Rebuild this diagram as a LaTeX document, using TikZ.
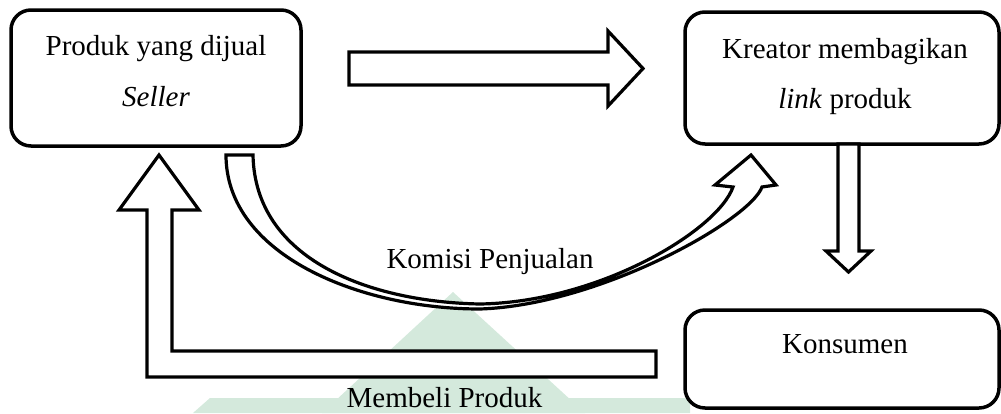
\documentclass[tikz,border=0pt]{standalone}
\usepackage{fontspec}
\setmainfont{Liberation Serif}
\begin{document}
\begin{tikzpicture}[x=1pt,y=-1pt,
  box/.style={draw=black, line width=3.5pt, rounded corners=20pt, fill=white, inner sep=0pt},
  lbl/.style={anchor=base, inner sep=0pt, font=\fontsize{29}{35}\selectfont},
  blockarrow/.style={draw=black, line width=3.2pt, fill=white, line join=miter, miter limit=10},
  wm/.style={fill=wmgreen, draw=none}]
\definecolor{wmgreen}{RGB}{212,233,220}
\useasboundingbox (0,0) rectangle (1001,413);
% faint watermark
\fill[wm] (453,292) -- (585,413) -- (322,413) -- cycle;
\fill[wm] (193,413) -- (210,398) -- (690,398) -- (690,413) -- cycle;
% boxes
\node[box, minimum width=290pt, minimum height=136pt] (seller) at (156,78) {};
\node[box, minimum width=314pt, minimum height=132pt] (kreator) at (842,78) {};
\node[box, minimum width=314pt, minimum height=98pt] (konsumen) at (842,359) {};
% box texts
\node[lbl] (t1) at (156,55) {Produk yang dijual};
\node[lbl] (t2) at (156,106) {\itshape Seller};
\node[lbl] (t3) at (845,58) {Kreator membagikan};
\node[lbl] (t4) at (845,108) {\textit{link} produk};
\node[lbl] (t5) at (845,353) {Konsumen};
% right block arrow
\draw[blockarrow] (349,52) -- (608,52) -- (608,31) -- (643,68.5) -- (608,106) -- (608,85) -- (349,85) -- cycle;
% down block arrow
\draw[blockarrow] (838,144) -- (859,144) -- (859,251) -- (871,251) -- (848.5,272) -- (826,251) -- (838,251) -- cycle;
% L-shaped up block arrow
\draw[blockarrow] (147,377) -- (656,377) -- (656,351) -- (172,351) -- (172,210) -- (199,210) -- (159,155) -- (119,210) -- (147,210) -- cycle;
% curved block arrow
\draw[blockarrow] (226,155) .. controls (226,255) and (360,309) .. (480,309)
   .. controls (600,305) and (750,220) .. (762,187)
   -- (776,185) -- (751,155) -- (715,185) -- (733,187)
   .. controls (718,230) and (600,302) .. (480,304)
   .. controls (370,302) and (255,260) .. (253,155) -- cycle;
% arrow labels
\node[lbl] (komisi) at (490,268) {Komisi Penjualan};
\node[lbl] (membeli) at (444.5,407) {Membeli Produk};
\end{tikzpicture}
\end{document}
